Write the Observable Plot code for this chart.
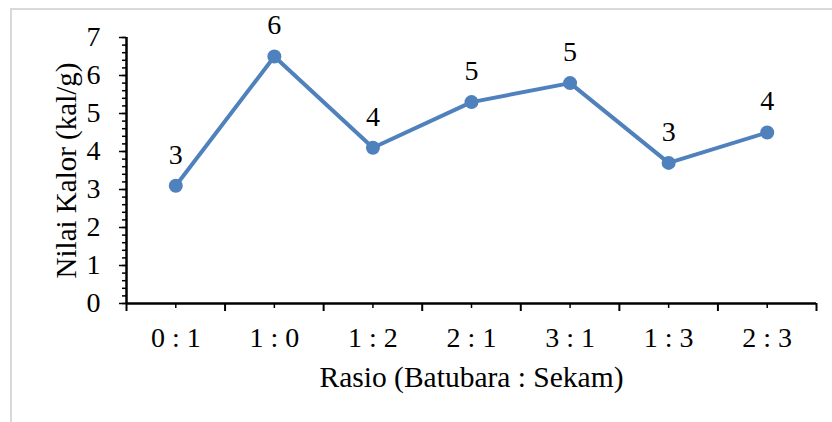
<!DOCTYPE html>
<html>
<head>
<meta charset="utf-8">
<script src="https://cdn.jsdelivr.net/npm/d3@7"></script>
<script src="https://cdn.jsdelivr.net/npm/@observablehq/plot@0.6"></script>
<style>
  html, body { margin: 0; padding: 0; background: #fff; }
  #wrap { position: relative; width: 832px; height: 422px; overflow: hidden; }
  #frame { position: absolute; left: 10px; top: 8px; width: 900px; height: 500px;
           border: 2px solid #d9d9d9; box-sizing: border-box; }
  #chart { position: absolute; left: 0; top: 0; width: 832px; }
  #chart svg { max-width: none; font-family: 'Liberation Serif', 'Times New Roman', serif; font-size: 28px; }
  #chart svg text { fill: #000; }
</style>
</head>
<body>
<div id="wrap"><div id="frame"></div><div id="chart"></div></div>
<script>
// Rasio campuran batubara : sekam padi
const categories = ["0 : 1", "1 : 0", "1 : 2", "2 : 1", "3 : 1", "1 : 3", "2 : 3"];
// Nilai kalor tiap rasio (kal/g)
const values = [3.1, 6.5, 4.1, 5.3, 5.8, 3.7, 4.5];
const yTicks = [0, 1, 2, 3, 4, 5, 6, 7];

const rows = categories.map((c, i) => ({pos: i + 0.5, cat: c, v: values[i]}));
const blue = "#4F81BD";

const chart = Plot.plot({
  width: 832,
  height: 422,
  marginLeft: 126,
  marginRight: 16,
  marginTop: 37,
  marginBottom: 119,
  style: {background: "transparent", color: "#000"},
  x: {type: "linear", domain: [0, categories.length]},
  y: {domain: [0, 7]},
  marks: [
    // y axis: minor and major ticks, labels
    Plot.axisY({ticks: d3.range(0, 7.001, 0.2), tickSize: 4, text: null, label: null, strokeWidth: 1.5}),
    Plot.axisY({ticks: yTicks, tickSize: 7, tickPadding: 19, tickFormat: d3.format("d"),
                strokeWidth: 1.5, label: null}),
    Plot.ruleX([0], {strokeWidth: 2.5}),
    // x axis: category boundaries, category centres, labels
    Plot.axisX({ticks: d3.range(0, categories.length + 1), tickSize: 8, text: null, label: null, strokeWidth: 2}),
    Plot.axisX({ticks: rows.map(d => d.pos), tickSize: 5, tickPadding: 19,
                tickFormat: p => categories[Math.floor(p)], label: null, strokeWidth: 1.5}),
    Plot.ruleY([0], {strokeWidth: 2.5}),
    // series
    Plot.line(rows, {x: "pos", y: "v", stroke: blue, strokeWidth: 4}),
    Plot.dot(rows, {x: "pos", y: "v", r: 7, fill: blue}),
    Plot.text(rows, {x: "pos", y: "v", text: d => String(Math.trunc(d.v)), dy: -31}),
    // axis titles
    Plot.text(["Rasio (Batubara : Sekam)"], {frameAnchor: "bottom", textAnchor: "middle", dy: 83, fontSize: 29.5}),
    Plot.text(["Nilai Kalor (kal/g)"], {frameAnchor: "left", textAnchor: "middle", dx: -60, rotate: -90, fontSize: 29})
  ]
});
document.getElementById("chart").appendChild(chart);
</script>
</body>
</html>
